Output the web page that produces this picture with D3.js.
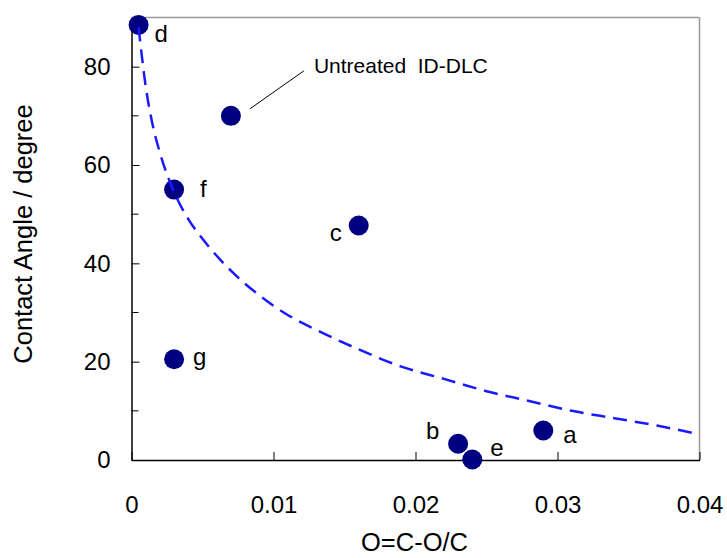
<!DOCTYPE html>
<html>
<head>
<meta charset="utf-8">
<script src="https://cdn.jsdelivr.net/npm/d3@7"></script>
<style>
  body { margin: 0; background: #fff; }
  svg text { font-family: "Liberation Sans", Arial, sans-serif; fill: #000; }
</style>
</head>
<body>
<svg id="chart" width="727" height="558"></svg>
<script>
// Sample labels and measured values
var labels = ['d', 'untreated', 'f', 'g', 'c', 'b', 'e', 'a'];
var ratio = [0.0005, 0.007, 0.003, 0.003, 0.016, 0.023, 0.024, 0.029];   // O=C-O/C
var angle = [88.5, 70, 55, 20.5, 47.7, 3.3, 0.1, 6];                        // degree

// Dashed trend curve
var fitX = [0.0005, 0.001, 0.0015, 0.002, 0.003, 0.004, 0.005, 0.007, 0.009, 0.011,
            0.013, 0.016, 0.019, 0.022, 0.025, 0.028, 0.031, 0.034, 0.037, 0.040];
var fitY = [88, 76, 68, 62.5, 54.5, 49, 45, 38.5, 33.5, 29.5,
            26.5, 22.5, 19, 16.5, 14, 12, 10, 8.5, 7, 5.2];

var xTicks = [0, 0.01, 0.02, 0.03, 0.04];
var yTicks = [0, 20, 40, 60, 80];
var yMinor = [10, 30, 50, 70];

var svg = d3.select('#chart');

var x = d3.scaleLinear().domain([0, 0.04]).range([131.5, 699.5]);
var y = d3.scaleLinear().domain([0, 90]).range([460, 17.5]);

// frame: gray top/right, black left/bottom
svg.append('line').attr('x1', x(0)).attr('x2', x(0.04)).attr('y1', y(90)).attr('y2', y(90))
    .style('stroke', '#999').style('stroke-width', 1.5);
svg.append('line').attr('x1', x(0.04)).attr('x2', x(0.04)).attr('y1', y(90)).attr('y2', y(0))
    .style('stroke', '#999').style('stroke-width', 1.5);

// axes with inward ticks
var xAxis = svg.append('g').attr('transform', 'translate(0,' + y(0) + ')')
    .call(d3.axisBottom(x).tickValues(xTicks).tickSizeInner(-8).tickSizeOuter(0)
        .tickFormat(function(d) { return d === 0 ? '0' : d3.format('.2f')(d); }));
xAxis.selectAll('text').attr('y', 36).style('font-size', '24px');

var yAxis = svg.append('g').attr('transform', 'translate(' + x(0) + ',0)')
    .call(d3.axisLeft(y).tickValues(yTicks).tickSizeInner(-8).tickSizeOuter(0));
yAxis.selectAll('text').attr('x', -21).style('font-size', '24px');

svg.append('g').selectAll('line').data(yMinor).enter().append('line')
    .attr('x1', x(0)).attr('x2', x(0) + 7)
    .attr('y1', function(d) { return y(d); }).attr('y2', function(d) { return y(d); })
    .style('stroke', '#000');

svg.selectAll('.domain').style('stroke', '#000').style('stroke-width', 1.5);
svg.selectAll('.tick line').style('stroke', '#000');
svg.selectAll('.tick text').attr('fill', '#000').style('font-family', '"Liberation Sans", Arial, sans-serif');

// axis titles
svg.append('text').attr('x', 414.5).attr('y', 551).attr('text-anchor', 'middle')
    .style('font-size', '25.5px').text('O=C-O/C');
svg.append('text').attr('transform', 'translate(32,234) rotate(-90)').attr('text-anchor', 'middle')
    .style('font-size', '25.5px').text('Contact Angle / degree');

// points
var pts = labels.map(function(l, i) { return {label: l, x: ratio[i], y: angle[i]}; });

svg.append('g').selectAll('circle').data(pts).enter().append('circle')
    .attr('cx', function(d) { return x(d.x); })
    .attr('cy', function(d) { return y(d.y); })
    .attr('r', 10)
    .style('fill', '#000080');

// point letters, offset from the marker
var labelOffsets = {d: [16, 17], f: [26, 7], g: [19, 6], c: [-29, 16], b: [-32, -5], e: [18, -4], a: [20, 12]};
svg.append('g').selectAll('text').data(pts.filter(function(d) { return labelOffsets[d.label]; }))
    .enter().append('text')
    .attr('x', function(d) { return x(d.x) + labelOffsets[d.label][0]; })
    .attr('y', function(d) { return y(d.y) + labelOffsets[d.label][1]; })
    .style('font-size', '24px')
    .text(function(d) { return d.label; });

// callout for the untreated sample
var un = pts[1];
svg.append('line')
    .attr('x1', x(un.x) + 19).attr('y1', y(un.y) - 7)
    .attr('x2', x(un.x) + 73).attr('y2', y(un.y) - 45)
    .style('stroke', '#000').style('stroke-width', 1);
svg.append('text').attr('x', x(un.x) + 83).attr('y', y(un.y) - 43)
    .style('font-size', '21px')
    .text('Untreated\u00a0\u00a0ID-DLC');

// dashed trend curve on top
var fit = fitX.map(function(v, i) { return [v, fitY[i]]; });
svg.append('path').datum(fit)
    .attr('d', d3.line().x(function(d) { return x(d[0]); }).y(function(d) { return y(d[1]); })
        .curve(d3.curveMonotoneX))
    .style('fill', 'none').style('stroke', '#1a1aff').style('stroke-width', 2.5)
    .style('stroke-dasharray', '14,8');
</script>
</body>
</html>
